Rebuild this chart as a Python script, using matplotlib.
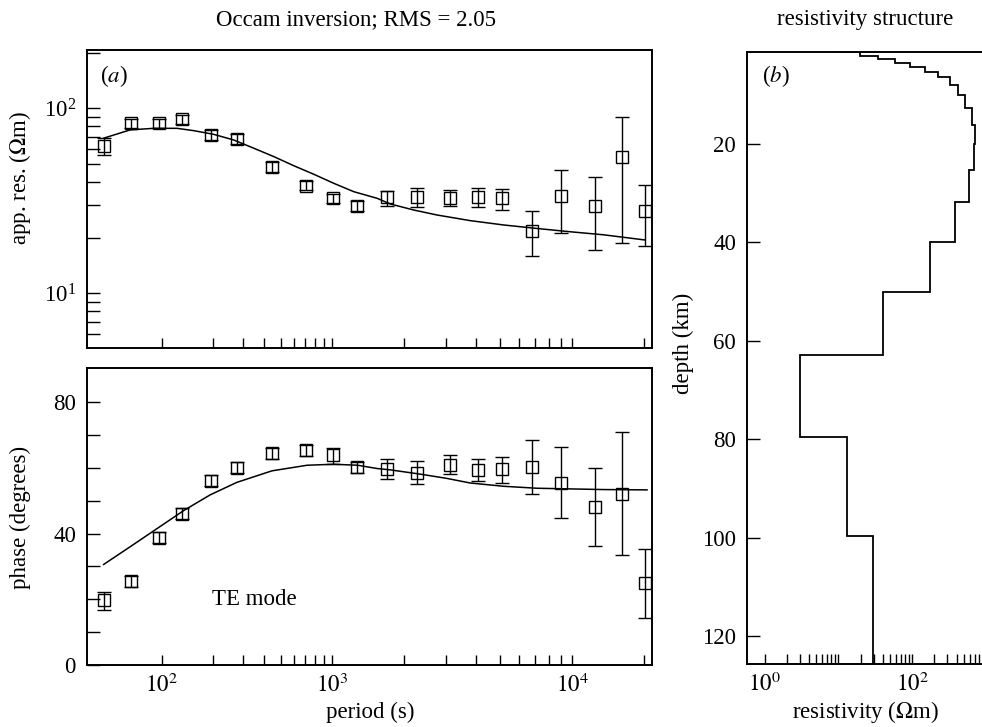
import numpy as np
import matplotlib
matplotlib.use('Agg')
import matplotlib.pyplot as plt
from matplotlib.ticker import FixedLocator, FuncFormatter, NullFormatter, LogLocator

# ---------------- data ----------------
period = [45.8, 66, 97, 132, 195, 277, 443, 701, 1012, 1274,
          1695, 2265, 3117, 4051, 5094, 6800, 9016, 12510, 16160, 20200]

rho = [62.8, 83.0, 83.0, 87.3, 71.8, 68.2, 48.3, 38.2, 32.7, 29.7,
       33.0, 33.3, 32.9, 33.0, 32.7, 21.8, 33.7, 29.8, 54.3, 27.9]
rho_lo = [56.0, 78.5, 78.5, 82.5, 67.5, 64.0, 45.5, 36.0, 30.8, 28.0,
          29.7, 29.4, 29.7, 29.2, 28.2, 15.9, 21.1, 17.1, 18.8, 18.0]
rho_hi = [69.3, 87.5, 87.5, 92.0, 76.0, 72.5, 51.0, 40.5, 34.6, 31.5,
          35.9, 37.0, 36.1, 37.0, 36.5, 27.9, 46.4, 42.4, 90.1, 38.5]

phase = [19.7, 25.5, 38.7, 46.0, 56.1, 60.0, 64.5, 65.4, 64.0, 60.2,
         59.8, 58.4, 60.9, 59.4, 59.8, 60.3, 55.4, 48.2, 52.1, 24.9]
phase_lo = [16.7, 23.8, 37.0, 44.3, 54.4, 58.3, 62.8, 63.7, 61.2, 58.5,
            56.6, 55.1, 58.0, 56.0, 55.5, 52.0, 44.6, 36.1, 33.6, 14.3]
phase_hi = [22.3, 27.2, 40.4, 47.7, 57.8, 61.7, 66.2, 67.1, 66.2, 61.9,
            62.6, 62.1, 63.8, 62.6, 63.4, 68.5, 66.4, 60.1, 70.8, 35.2]

model_rho_T = [45.6, 65.3, 89.7, 123, 154, 202, 265, 348, 456, 598, 783,
               1019, 1235, 1545, 1750, 2190, 2738, 3767, 5188, 7145, 9840,
               13550, 20200]
model_rho = [68.9, 76.4, 77.9, 77.9, 75.7, 72.3, 67.4, 60.8, 54.8, 48.9,
             44.0, 39.3, 35.4, 32.6, 30.4, 28.2, 26.5, 24.7, 23.4, 22.4,
             21.5, 20.7, 19.4]

model_ph_T = [45.6, 65.3, 93.8, 134.7, 193, 277, 445, 716, 1019, 1283,
              1545, 1750, 2333, 3013, 3767, 5188, 7145, 9840, 13550, 20540]
model_phase = [30.6, 36.0, 41.5, 47.0, 51.8, 55.6, 59.1, 60.8, 61.1, 60.8,
               59.8, 59.4, 58.1, 56.8, 55.4, 54.4, 53.8, 53.6, 53.4, 53.3]

layer_edges_km = [0, 1.3, 2.11, 2.78, 3.48, 4.29, 5.30, 6.32, 8.01, 10.04,
                  12.74, 16.14, 19.9, 25.28, 31.73, 39.86, 50.02, 62.89,
                  79.49, 99.67, 140]
layer_rho = [10.5, 19.6, 34.6, 58.3, 93, 149, 225, 324, 420, 517, 638,
             718, 686, 587, 385, 174, 40.5, 3.0, 12.9, 29.6]

period_major = [1e2, 1e3, 1e4]
period_minor = [200, 300, 400, 500, 600, 700, 800, 900,
                2000, 3000, 4000, 5000, 6000, 7000, 8000, 9000, 20000]
res_major = [1, 100]
res_minor = [2, 3, 4, 5, 6, 7, 8, 9, 10, 20, 30, 40, 50, 60, 70, 80, 90,
             200, 300, 400, 500, 600, 700, 800, 900]

# ---------------- style ----------------
plt.rcParams['font.family'] = ['Liberation Serif', 'DejaVu Serif']
plt.rcParams['mathtext.fontset'] = 'stix'
FS = 16.5

W, H = 982, 727
fig = plt.figure(figsize=(W / 100, H / 100), dpi=100)


def box(x0, y0, x1, y1):
    return [x0 / W, 1 - y1 / H, (x1 - x0) / W, (y1 - y0) / H]


ax1 = fig.add_axes(box(87, 50, 652, 348))
ax2 = fig.add_axes(box(87, 368, 652, 665))
ax3 = fig.add_axes(box(747, 52, 986, 664))

# the original period axis has a wider decade above 1000 s
K = 240.0 / 170.0


def fwd(t):
    lt = np.log10(np.clip(np.asarray(t, float), 1e-12, None))
    return np.where(lt <= 3, lt, 3 + (lt - 3) * K)


def inv(u):
    u = np.asarray(u, float)
    return 10 ** np.where(u <= 3, u, 3 + (u - 3) / K)


def pow_fmt(v, pos):
    return r'$10^{%d}$' % int(round(np.log10(v)))


for ax in (ax1, ax2, ax3):
    for s in ax.spines.values():
        s.set_linewidth(1.4)
    ax.tick_params(which='both', direction='in', top=False, right=False,
                   width=1.0, labelsize=FS, colors='k')

for ax in (ax1, ax2):
    ax.set_xscale('function', functions=(fwd, inv))
    ax.set_xlim(36.4, 21540)
    ax.xaxis.set_major_locator(FixedLocator(period_major))
    ax.xaxis.set_minor_locator(FixedLocator(period_minor))
    ax.xaxis.set_major_formatter(FuncFormatter(pow_fmt))
    ax.xaxis.set_minor_formatter(NullFormatter())
    ax.tick_params(axis='x', which='both', length=7, pad=6)
    ax.tick_params(axis='y', which='both', length=9, pad=8)

ebkw = dict(fmt='s', mfc='none', mec='k', ms=9, mew=1.0, ecolor='k',
            elinewidth=1.0, capsize=5, capthick=1.0, zorder=3)

# ---- apparent resistivity ----
r = np.array(rho)
ax1.errorbar(period, rho, yerr=[r - np.array(rho_lo), np.array(rho_hi) - r], **ebkw)
ax1.plot(model_rho_T, model_rho, color='k', lw=1.1)
ax1.set_yscale('log')
ax1.set_ylim(5.06, 206.5)
ax1.yaxis.set_major_locator(LogLocator(base=10))
ax1.yaxis.set_minor_locator(LogLocator(base=10, subs=np.arange(2, 10)))
ax1.yaxis.set_minor_formatter(NullFormatter())
ax1.tick_params(axis='x', labelbottom=False)

# ---- phase ----
p = np.array(phase)
ax2.errorbar(period, phase, yerr=[p - np.array(phase_lo), np.array(phase_hi) - p], **ebkw)
ax2.plot(model_ph_T, model_phase, color='k', lw=1.1)
ax2.set_ylim(0, 90.4)
ax2.yaxis.set_major_locator(FixedLocator([0, 40, 80]))
ax2.yaxis.set_minor_locator(FixedLocator([10, 20, 30, 50, 60, 70]))

# ---- resistivity structure ----
ax3.stairs(layer_rho, layer_edges_km, orientation='horizontal', baseline=None,
           color='k', lw=1.3)
ax3.set_xscale('log')
ax3.set_xlim(0.575, 1000)
ax3.set_ylim(125.7, 1.3)
ax3.xaxis.set_major_locator(FixedLocator(res_major))
ax3.xaxis.set_minor_locator(FixedLocator(res_minor))
ax3.xaxis.set_major_formatter(FuncFormatter(pow_fmt))
ax3.xaxis.set_minor_formatter(NullFormatter())
ax3.yaxis.set_major_locator(FixedLocator([20, 40, 60, 80, 100, 120]))
ax3.tick_params(axis='x', which='both', length=7, pad=6)
ax3.tick_params(axis='y', which='both', length=9, pad=8)

# ---- texts ----
def ftext(x, y, s, **kw):
    kw.setdefault('fontsize', FS)
    fig.text(x / W, 1 - y / H, s, **kw)


ftext(356, 25, 'Occam inversion; RMS = 2.05', ha='center', va='baseline')
ftext(865, 25, 'resistivity structure', ha='center', va='baseline')
ftext(370, 718, 'period (s)', ha='center', va='baseline')
ftext(865, 718, r'resistivity ($\Omega$m)', ha='center', va='baseline')
ftext(20, 178, r'app. res. ($\Omega$m)', ha='center', va='center', rotation=90)
ftext(20, 517, 'phase (degrees)', ha='center', va='center', rotation=90)
ftext(683, 343, 'depth (km)', ha='center', va='center', rotation=90)
ftext(114, 76, r'($\mathit{a}$)', ha='center', va='center')
ftext(776, 76, r'($\mathit{b}$)', ha='center', va='center')
ftext(212, 605, 'TE mode', ha='left', va='baseline')

fig.savefig('out.png', dpi=100)
